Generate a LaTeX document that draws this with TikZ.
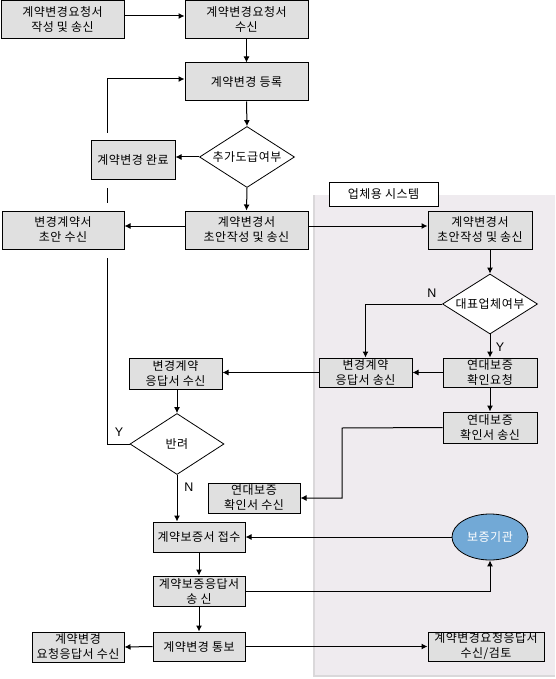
\documentclass[tikz,border=0pt]{standalone}
\usepackage{fontspec}
\setmainfont{Liberation Sans}
\newfontfamily\kr[LetterSpace=4]{Noto Sans CJK KR}
\usetikzlibrary{shapes.geometric,arrows.meta,calc}
\definecolor{boxgray}{RGB}{224,224,224}
\definecolor{regiongray}{RGB}{239,235,239}
\definecolor{regionedge}{RGB}{218,216,218}
\definecolor{agencyblue}{RGB}{114,169,214}
\begin{document}
\begin{tikzpicture}[x=1pt,y=-1pt,
  every node/.style={font=\kr\fontsize{12}{15}\selectfont, align=center, inner sep=0pt},
  box/.style={draw, fill=boxgray, line width=1pt, rectangle},
  dia/.style={draw, fill=white, diamond, line width=0.8pt},
  conn/.style={line width=1pt},
  arr/.style={conn, -{Latex[length=6pt,width=6pt]}},
  lab/.style={font=\fontsize{12.5}{14}\selectfont}
]
\useasboundingbox (0,0) rectangle (555,679);
% region
\fill[regiongray] (314,195) rectangle (555,676);
\draw[regionedge, line width=1.5pt] (314,195) -- (314,676) -- (555,676);
\node[draw, fill=white, line width=1pt, minimum width=109pt, minimum height=24pt] (sys) at (383.5,194.5) {업체용 시스템};

% nodes
\node[box, minimum width=123pt, minimum height=38pt] (req) at (62.5,19.5) {계약변경요청서\\작성 및 송신};
\node[box, minimum width=123pt, minimum height=38pt] (recv) at (246.5,19.5) {계약변경요청서\\수신};
\node[box, minimum width=123pt, minimum height=38pt] (reg) at (246.5,82) {계약변경 등록};
\node[dia, minimum width=95pt, minimum height=61pt] (dia1) at (247,157) {\makebox[0pt]{추가도급여부}};
\node[box, minimum width=84pt, minimum height=38pt] (done) at (133,160) {계약변경 완료};
\node[box, minimum width=122pt, minimum height=38pt] (draftL) at (63,230) {변경계약서\\초안 수신};
\node[box, minimum width=123pt, minimum height=38pt] (draftM) at (246.5,230) {계약변경서\\초안작성 및 송신};
\node[box, minimum width=104pt, minimum height=38pt] (draftR) at (480,230) {계약변경서\\초안작성 및 송신};
\node[dia, minimum width=95pt, minimum height=60pt] (dia2) at (490,304) {\makebox[0pt]{대표업체여부}};
\node[box, minimum width=93pt, minimum height=29pt] (respS) at (365.5,372.5) {변경계약\\응답서 송신};
\node[box, minimum width=94pt, minimum height=29pt] (conf) at (490,372.5) {연대보증\\확인요청};
\node[box, minimum width=94pt, minimum height=31pt] (confS) at (490,427.5) {연대보증\\확인서 송신};
\node[box, minimum width=92pt, minimum height=30pt] (confR) at (254,498) {연대보증\\확인서 수신};
\node[box, minimum width=93pt, minimum height=31pt] (respR) at (175.5,373.5) {변경계약\\응답서 수신};
\node[dia, minimum width=94pt, minimum height=61pt] (dia3) at (177,444) {\makebox[0pt]{반려}};
\node[box, minimum width=92pt, minimum height=30pt] (gjeop) at (199,537) {계약보증서 접수};
\node[box, minimum width=92pt, minimum height=30pt] (gresp) at (199,591) {계약보증응답서\\송 신};
\node[box, minimum width=92pt, minimum height=29pt] (notify) at (199,646.5) {계약변경 통보};
\node[box, minimum width=92pt, minimum height=30pt] (leftR) at (78,647) {계약변경\\요청응답서 수신};
\node[box, minimum width=116pt, minimum height=29pt] (rightR) at (486,646.5) {계약변경요청응답서\\수신/검토};
\node[ellipse, draw, line width=0.8pt, fill=agencyblue, text=white, minimum width=76pt, minimum height=46pt] (agency) at (490,537) {보증기관};

% connectors
\draw[arr] ([yshift=3.5pt]req.east) -- ([yshift=3.5pt]req.east -| recv.west);
\draw[arr] (recv.south) -- (reg.north);
\draw[arr] (reg.south) -- (dia1.north);
\draw[arr] (dia1.west) -- (dia1.west -| done.east);
\coordinate (l1) at (107,133);
\draw[arr] (l1) |- ([yshift=3pt]reg.west);
\coordinate (l2a) at (107,188);
\coordinate (l2b) at (107,203);
\draw[conn] (l2a) -- (l2b);
\draw[arr] (dia1.south) -- (draftM.north);
\draw[arr] ([yshift=4pt]draftM.west) -- ([yshift=4pt]draftM.west -| draftL.east);
\coordinate (l3) at (107,258);
\draw[conn] (l3) |- (dia3.west);
\draw[arr] ([yshift=4pt]draftM.east) -- ([yshift=4pt]draftM.east -| draftR.west);
\draw[arr] (dia2.north |- draftR.south) -- (dia2.north);
\draw[arr] (dia2.west) -| (respS.north);
\node[lab] (n1) at (432,293) {N};
\draw[arr] (dia2.south) -- (conf.north);
\node[lab] (y1) at (500,347) {Y};
\draw[arr] (conf.west) -- (respS.east);
\draw[arr] (conf.south) -- (confS.north);
\coordinate (c1) at (342,428);
\draw[arr] (confS.west) -- (c1) |- (confR.east);
\draw[arr] (respS.west) -- (respS.west -| respR.east);
\draw[arr] (dia3.north |- respR.south) -- (dia3.north);
\node[lab] (y2) at (119,432) {Y};
\draw[arr] (dia3.south) -- (dia3.south |- gjeop.north);
\node[lab] (n2) at (189,487) {N};
\draw[arr] (agency.west) -- (agency.west -| gjeop.east);
\draw[arr] (gjeop.south) -- (gresp.north);
\draw[arr] (gresp.east) -| (agency.south);
\draw[arr] (gresp.south) -- (notify.north);
\draw[arr] (notify.west) -- (leftR.east);
\draw[arr] (notify.east) -- (rightR.west);
\end{tikzpicture}
\end{document}
